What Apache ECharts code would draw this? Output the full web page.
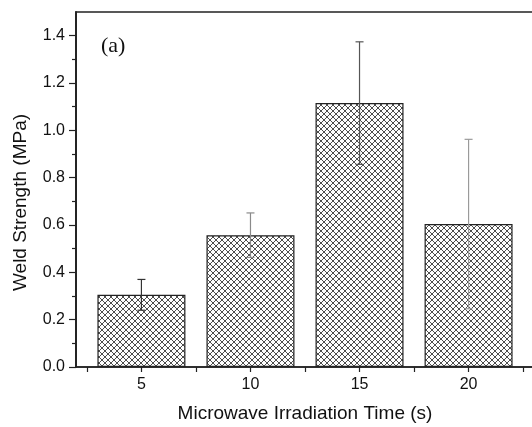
<!DOCTYPE html>
<html>
<head>
<meta charset="utf-8">
<script src="https://cdn.jsdelivr.net/npm/echarts@6/dist/echarts.min.js"></script>
<style>
html,body{margin:0;padding:0;background:#fff;}
#c{width:532px;height:427px;}
</style>
</head>
<body>
<div id="c"></div>
<script>
// ---- data ----
var times = [5, 10, 15, 20];
var strength = [0.305, 0.557, 1.115, 0.604];
var strengthErr = [0.065, 0.094, 0.259, 0.358];
var xTickLabels = ['5', '10', '15', '20'];
var xTickMarks = [2.5, 5, 7.5, 10, 12.5, 15, 17.5, 20, 22.5];
var yTickLabels = ['0.0', '0.2', '0.4', '0.6', '0.8', '1.0', '1.2', '1.4'];
var yMinorTicks = [0.1, 0.3, 0.5, 0.7, 0.9, 1.1, 1.3];
var panelLabel = '(a)';
var xTitle = 'Microwave Irradiation Time (s)';
var yTitle = 'Weld Strength (MPa)';

// ---- styles ----
var errColors = ['#333', '#8a8a8a', '#555', '#9a9a9a'];

function hatch() {
  var s = 6;
  var c = document.createElement('canvas');
  c.width = s; c.height = s;
  var g = c.getContext('2d');
  g.fillStyle = '#fff';
  g.fillRect(0, 0, s, s);
  g.strokeStyle = '#3a3a3a';
  g.lineWidth = 0.9;
  g.beginPath();
  g.moveTo(0, 0); g.lineTo(s, s);
  g.moveTo(0, s); g.lineTo(s, 0);
  g.stroke();
  return c;
}

var yMajor = yTickLabels.map(parseFloat);
var barData = times.map(function (t, i) { return [t, strength[i]]; });
var errData = times.map(function (t, i) { return [t, strength[i] - strengthErr[i], strength[i] + strengthErr[i], i]; });

var chart = echarts.init(document.getElementById('c'), null, {renderer: 'canvas'});
var font = 'Liberation Sans, Arial, sans-serif';
chart.setOption({
  animation: false,
  backgroundColor: '#fff',
  title: {
    text: panelLabel, left: 96, top: 30,
    textStyle: {fontFamily: 'Liberation Serif, Times New Roman, serif', fontSize: 22, fontWeight: 'normal', color: '#111'}
  },
  grid: {left: 76, top: 12, right: -2, bottom: 60, show: true, borderColor: '#222', borderWidth: 1.5,
         backgroundColor: 'transparent', outerBoundsMode: 'none', containLabel: false},
  xAxis: {
    type: 'value', min: 2, max: 23,
    name: xTitle, nameLocation: 'middle', nameGap: 37,
    nameTextStyle: {fontFamily: font, fontSize: 19, color: '#111'},
    axisLine: {lineStyle: {color: '#222', width: 1.5}},
    axisTick: {show: true, inside: false, length: 5, customValues: xTickMarks, lineStyle: {color: '#222', width: 1.2}},
    splitLine: {show: false},
    axisLabel: {
      fontFamily: font, fontSize: 16, color: '#111', margin: 10, customValues: times,
      formatter: function (v) { var k = times.indexOf(v); return k >= 0 ? xTickLabels[k] : ''; }
    }
  },
  yAxis: [{
    type: 'value', min: 0, max: 1.5,
    position: 'left',
    axisLine: {show: true, lineStyle: {color: '#222', width: 1.5}},
    axisTick: {show: true, inside: false, length: 4, customValues: yMinorTicks, lineStyle: {color: '#222', width: 1.2}},
    axisLabel: {show: false},
    splitLine: {show: false}
  }, {
    type: 'value', min: 0, max: 1.5,
    position: 'left',
    name: yTitle, nameLocation: 'middle', nameGap: 46,
    nameTextStyle: {fontFamily: font, fontSize: 19, color: '#111', padding: [0, 26, 0, 0]},
    axisLine: {show: true, lineStyle: {color: '#222', width: 1.5}},
    axisTick: {show: true, inside: false, length: 7, customValues: yMajor, lineStyle: {color: '#222', width: 1.2}},
    axisLabel: {
      fontFamily: font, fontSize: 16, color: '#111', margin: 11, customValues: yMajor,
      formatter: function (v) { var k = Math.round(v / 0.2); return (k >= 0 && k < yTickLabels.length) ? yTickLabels[k] : ''; }
    },
    splitLine: {show: false}
  }],
  series: [{
    type: 'bar',
    yAxisIndex: 0,
    data: barData,
    barWidth: 88,
    itemStyle: {color: {image: hatch(), repeat: 'repeat'}, borderColor: '#222', borderWidth: 1.2},
    z: 2
  }, {
    type: 'custom',
    yAxisIndex: 0,
    data: errData,
    z: 3,
    renderItem: function (params, api) {
      var x = api.value(0);
      var lo = api.coord([x, api.value(1)]);
      var hi = api.coord([x, api.value(2)]);
      var col = errColors[api.value(3)];
      var hw = 4;
      var st = {stroke: col, lineWidth: 1.2};
      return {
        type: 'group',
        children: [
          {type: 'line', shape: {x1: hi[0], y1: hi[1], x2: lo[0], y2: lo[1]}, style: st},
          {type: 'line', shape: {x1: hi[0] - hw, y1: hi[1], x2: hi[0] + hw, y2: hi[1]}, style: st},
          {type: 'line', shape: {x1: lo[0] - hw, y1: lo[1], x2: lo[0] + hw, y2: lo[1]}, style: st}
        ]
      };
    }
  }]
});
</script>
</body>
</html>
